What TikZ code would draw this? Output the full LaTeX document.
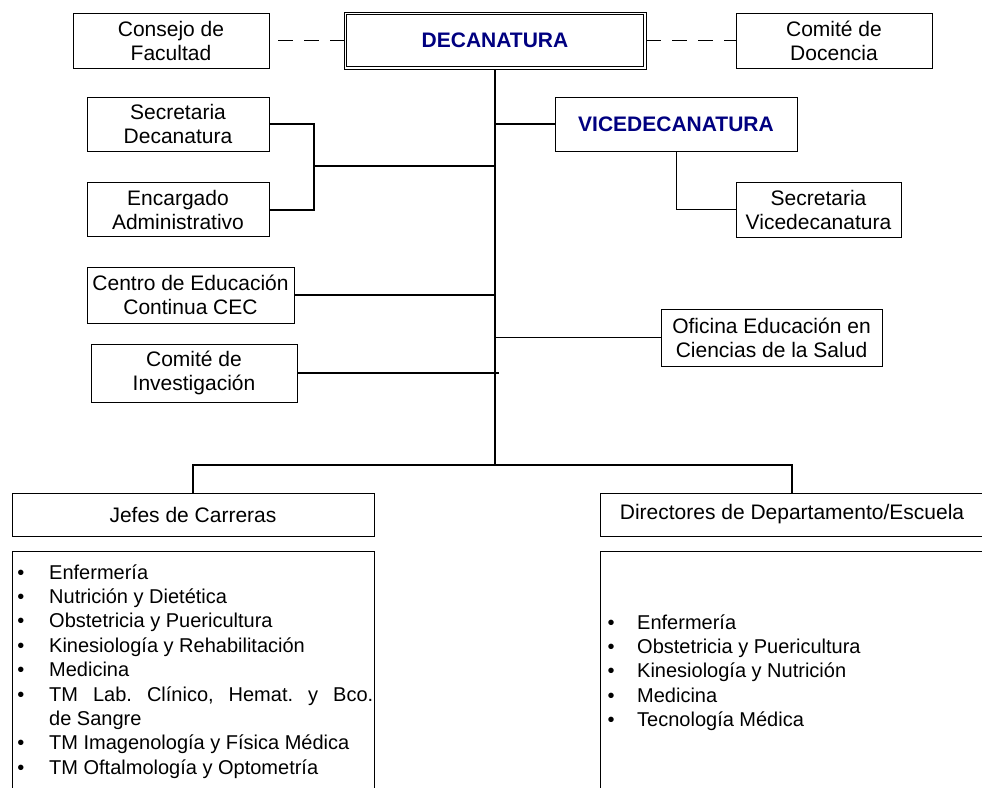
\documentclass[tikz,border=0pt]{standalone}
\usepackage{fontspec}
\setsansfont{Liberation Sans}
\usetikzlibrary{positioning}
\definecolor{decaBlue}{RGB}{0,0,128}
\frenchspacing
\tikzset{
  unit/.style={rectangle, draw, fill=white, line width=0.8pt, inner sep=0pt, align=center,
    font=\sffamily\fontsize{21}{24}\selectfont},
  headUnit/.style={unit, text=decaBlue, font=\sffamily\bfseries\fontsize{21}{24}\selectfont},
  listFrame/.style={rectangle, draw, line width=0.8pt, inner sep=0pt, anchor=north west},
  item/.style={inner sep=0pt, anchor=base west, font=\sffamily\fontsize{20}{24}\selectfont},
  dot/.style={inner sep=0pt, anchor=base, font=\sffamily\fontsize{20}{24}\selectfont},
  link/.style={line width=1.5pt},
  thinLink/.style={line width=0.8pt},
  dashLink/.style={line width=1.4pt, dash pattern=on 15pt off 11pt}
}
\begin{document}
\begin{tikzpicture}[x=1pt, y=-1pt]
  \path[use as bounding box, clip] (0,0) rectangle (982,787);

  % top row
  \node [headUnit, minimum width=302pt, minimum height=57pt] (deca) at (495,40.5) {DECANATURA};
  \draw [line width=0.8pt] ([xshift=3pt,yshift=-3pt]deca.north west) rectangle ([xshift=-3pt,yshift=3pt]deca.south east);
  \node [unit, minimum width=196pt, minimum height=55pt] (consejo) at (171,40.5) {Consejo de\\Facultad};
  \node [unit, minimum width=196pt, minimum height=55pt] (docencia) at (834,40.5) {Comité de\\Docencia};
  \draw [dashLink, dash phase=17pt] (consejo) -- (deca);
  \draw [dashLink] (deca) -- (docencia);

  % left staff units
  \node [unit, minimum width=182pt, minimum height=54pt] (secDeca) at (178,124) {Secretaria\\Decanatura};
  \node [unit, minimum width=182pt, minimum height=54pt, below=31pt of secDeca] (encargado) {Encargado\\Administrativo};
  \node [unit, minimum width=207pt, minimum height=56pt] (cec) at (190.5,295) {Centro de Educación\\Continua CEC};
  \node [unit, minimum width=206pt, minimum height=58pt] (investigacion) at (194,373) {Comité de\\Investigación};

  % right units
  \node [headUnit, minimum width=242pt, minimum height=54pt] (vice) at (676,124) {VICEDECANATURA};
  \node [unit, minimum width=165pt, minimum height=55pt] (secVice) at (818.5,209.5) {Secretaria\\Vicedecanatura};
  \node [unit, minimum width=221pt, minimum height=57pt] (oficina) at (771.5,337.5) {Oficina Educación en\\Ciencias de la Salud};

  % lower level
  \coordinate (bus) at (495,465);
  \coordinate (staff) at (314,166);
  \node [unit, minimum width=362pt, minimum height=43pt] (jefes) at (193,514.5) {Jefes de Carreras};
  \node [unit, minimum width=384pt, minimum height=43pt] (directores) at (792,514.5) {Directores de Departamento/Escuela};
  \node [listFrame, minimum width=362pt, minimum height=260pt] (listJefes) at (12,551) {};
  \node [listFrame, minimum width=384pt, minimum height=260pt] (listDir) at (600,551) {};

  % connectors
  \draw [link] (deca.south) -- (bus);
  \draw [link] (secDeca.east) -| (staff) |- (encargado.east);
  \draw [link] (staff) -- (staff -| deca.south);
  \draw [link] (vice.west) -- (vice.west -| deca.south);
  \draw [thinLink] (vice.south) |- (secVice.west);
  \draw [link] (cec.east) -- (cec.east -| deca.south);
  \draw [link] (investigacion.east) -- ([xshift=4pt]investigacion.east -| deca.south);
  \draw [link] (oficina.west) -- (oficina.west -| deca.south);
  \draw [link] (jefes.north) |- (bus) -| (directores.north);

  % carreras
  \foreach \i/\txt in {0/Enfermería, 1/Nutrición y Dietética, 2/Obstetricia y Puericultura,
      3/Kinesiología y Rehabilitación, 4/Medicina,
      5/{\makebox[324pt][s]{TM Lab. Clínico, Hemat. y Bco.}},
      7/TM Imagenología y Física Médica, 8/TM Oftalmología y Optometría} {
    \node [dot] (bj\i) at (21,579+24.4*\i) {\textbullet};
    \node [item] (cj\i) at (49,579+24.4*\i) {\txt};
  }
  \node [item] (cj6) at (49,579+24.4*6) {de Sangre};

  % departamentos
  \foreach \i/\txt in {0/Enfermería, 1/Obstetricia y Puericultura, 2/Kinesiología y Nutrición,
      3/Medicina, 4/Tecnología Médica} {
    \node [dot] (bd\i) at (611,629+24.4*\i) {\textbullet};
    \node [item] (cd\i) at (637,629+24.4*\i) {\txt};
  }
\end{tikzpicture}
\end{document}
